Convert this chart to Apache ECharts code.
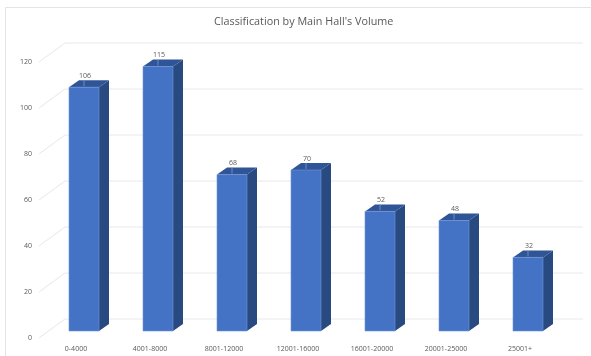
<!DOCTYPE html>
<html>
<head>
<meta charset="utf-8">
<style>html,body{margin:0;padding:0;background:#fff;overflow:hidden}#chart{width:591px;height:356px}</style>
<script src="https://cdn.jsdelivr.net/npm/echarts@6/dist/echarts.min.js"></script>
</head>
<body>
<div id="chart"></div>
<script>
const categories = ['0-4000','4001-8000','8001-12000','12001-16000','16001-20000','20001-25000','25001+'];
const halls = [106,115,68,70,52,48,32];
const ticks = [0,20,40,60,80,100,120];

// Pseudo-3D geometry, in pixels, relative to the axis plane
const FRONT = {dx: 8, dy: -7};
const DEPTH = {dx: 10, dy: -7};
const WALL = {dx: 26, dy: -19};
const BAR_W = 30;
const GRID_RIGHT_X = 583;
const COLORS = {front:'#4472C4', side:'#294A80', top:'#2F5597', edge:'#6F94D8'};

const chart = echarts.init(document.getElementById('chart'));

function renderWall(params, api) {
  const v = api.value(0);
  const p = api.coord([0, v]);
  const x0 = params.coordSys.x;
  return {type:'polyline', silent:true, shape:{points:[
    [x0, p[1]], [x0 + WALL.dx, p[1] + WALL.dy], [GRID_RIGHT_X, p[1] + WALL.dy]
  ]}, style:{stroke:'#E8E8E8', lineWidth:1, fill:null}};
}

function renderBar(params, api) {
  const top = api.coord([api.value(0), api.value(1)]);
  const base = api.coord([api.value(0), 0]);
  const l = top[0] + FRONT.dx - BAR_W / 2, r = l + BAR_W;
  const t = top[1] + FRONT.dy, b = base[1] + FRONT.dy;
  const dx = DEPTH.dx, dy = DEPTH.dy;
  return {type:'group', children:[
    {type:'polygon', shape:{points:[[r,t],[r+dx,t+dy],[r+dx,b+dy],[r,b]]}, style:{fill:COLORS.side}},
    {type:'polygon', shape:{points:[[l,t],[l+dx,t+dy],[r+dx,t+dy],[r,t]]}, style:{fill:COLORS.top}},
    {type:'rect', shape:{x:l,y:t,width:BAR_W,height:b-t}, style:{fill:COLORS.front,stroke:COLORS.edge,lineWidth:0.6}},
    {type:'line', shape:{x1:l+15,y1:t-1,x2:l+15,y2:t-7}, style:{stroke:'#7F9BD0',lineWidth:0.8}},
    {type:'text', x:l+16, y:t-11.5, style:{text:String(api.value(1)), fill:'#595959',
      font:'7px "Open Sans", sans-serif', align:'center', verticalAlign:'middle'}}
  ]};
}

chart.setOption({
  animation:false,
  backgroundColor:'#fff',
  title:{text:"Classification by Main Hall's Volume", left:209, top:11,
    textStyle:{fontFamily:'Open Sans',fontSize:10.8,fontWeight:'normal',color:'#595959'}},
  grid:{left:39,right:34,top:62,bottom:18},
  xAxis:{type:'category',data:categories,axisLine:{show:false},axisTick:{show:false},
    axisLabel:{margin:7,fontSize:7,fontFamily:'Open Sans',color:'#595959',interval:0}},
  yAxis:{type:'value',min:0,max:120,interval:20,splitLine:{show:false},axisLine:{show:false},axisTick:{show:false},
    axisLabel:{margin:7,fontSize:7,fontFamily:'Open Sans',color:'#595959'}},
  // Chart-area border: its right and bottom edges run past the page
  graphic:[{type:'rect',silent:true,shape:{x:5.5,y:7.5,width:600,height:360},style:{fill:null,stroke:'#E4E4E4',lineWidth:1}}],
  series:[
    {type:'custom',renderItem:renderWall,data:ticks.map(t=>[t]),encode:{y:0},z:1},
    {type:'custom',renderItem:renderBar,data:halls.map((v,i)=>[i,v]),encode:{x:0,y:1},z:2}
  ]
});
</script>
</body>
</html>
